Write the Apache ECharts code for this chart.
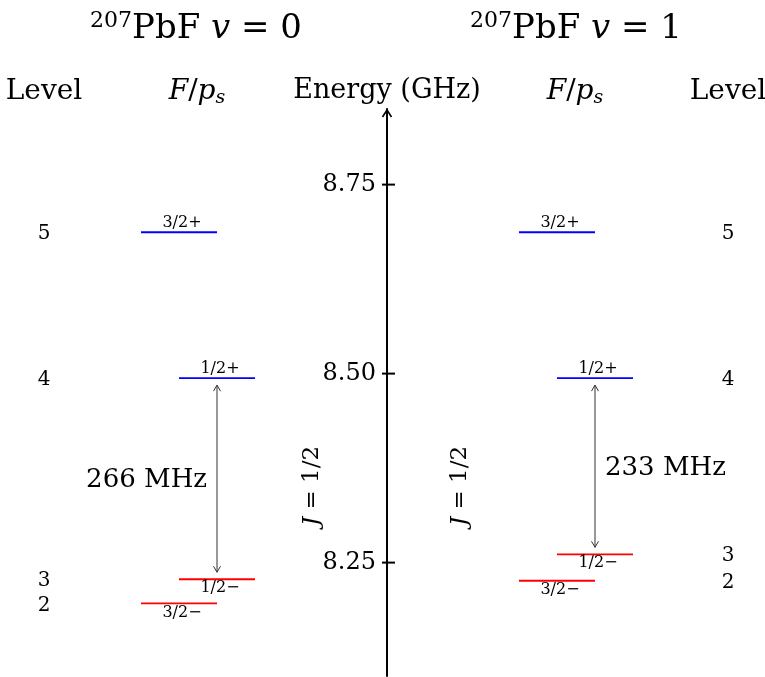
<!DOCTYPE html>
<html>
<head>
<meta charset="utf-8">
<style>
  html, body { margin: 0; padding: 0; background: #fff; }
  #chart { width: 765px; height: 677px; }
</style>
<script src="https://cdn.jsdelivr.net/npm/echarts@6/dist/echarts.min.js"></script>
</head>
<body>
<div id="chart"></div>
<script>
// hyperfine levels of 207PbF, J = 1/2, energies (GHz)
var levelNames = ['2', '3', '4', '5']
var fLabels = ['3/2−', '1/2−', '1/2+', '3/2+']
var parity = ['-', '-', '+', '+']
var energyV0 = [8.196, 8.228, 8.494, 8.687]
var energyV1 = [8.226, 8.261, 8.494, 8.687]
var yTicks = [8.25, 8.5, 8.75]
var yMin = 8.1
var yMax = 8.85

var FONT = 'DejaVu Serif'
var AXIS_X = 387 // pixel column of the energy axis
// horizontal layout, in px relative to the energy axis
var cols = [
  { energies: energyV0, center: -189, levelX: -343, gapSide: -1 },
  { energies: energyV1, center: 189, levelX: 341, gapSide: 1 }
]

var chart = echarts.init(document.getElementById('chart'))

function levelSeries (col) {
  return {
    type: 'custom',
    silent: true,
    data: col.energies.map(function (e, i) { return [i, e] }),
    encode: { x: 0, y: 1 },
    renderItem: function (params, api) {
      var i = params.dataIndex
      var half = fLabels[i].indexOf('1/2') === 0
      var c = col.center + (half ? 19 : -19)
      var a = api.coord([c - 38, api.value(1)])
      var b = api.coord([c + 38, api.value(1)])
      var up = parity[i] === '+'
      var color = up ? '#0000ff' : '#ff0000'
      return {
        type: 'group',
        children: [
          { type: 'line', shape: { x1: a[0], y1: a[1], x2: b[0], y2: b[1] }, style: { stroke: color, lineWidth: 1.8 } },
          { type: 'text', x: (a[0] + b[0]) / 2 + 3, y: a[1] + (up ? -9 : 9),
            style: { text: fLabels[i], fill: '#000', fontFamily: FONT, fontSize: 16, align: 'center', verticalAlign: 'middle' } },
          { type: 'text', x: api.coord([col.levelX, 0])[0], y: a[1] + 2,
            style: { text: levelNames[i], fill: '#000', fontFamily: FONT, fontSize: 20, align: 'center', verticalAlign: 'middle' } }
        ]
      }
    }
  }
}

function head (x, y, dir, w, h, width, color) {
  return { type: 'polyline', shape: { points: [[x - w, y + dir * h], [x, y], [x + w, y + dir * h]] },
    style: { stroke: color, lineWidth: width, fill: null } }
}

// splitting arrow between level 3 and level 4 on each side
var splitSeries = {
  type: 'custom',
  silent: true,
  data: cols.map(function (col, k) { return [k, col.energies[1], col.energies[2]] }),
  encode: { x: 0, y: 1 },
  renderItem: function (params, api) {
    var col = cols[params.dataIndex]
    var lo = api.value(1)
    var hi = api.value(2)
    var top = api.coord([col.center + 19, hi])
    var bot = api.coord([col.center + 19, lo])
    var x = top[0]
    var y1 = top[1] + 7
    var y2 = bot[1] - 7
    var mhz = Math.round((hi - lo) * 1000) + ' MHz'
    return {
      type: 'group',
      children: [
        { type: 'line', shape: { x1: x, y1: y1, x2: x, y2: y2 }, style: { stroke: '#333', lineWidth: 1 } },
        head(x, y1, 1, 3.5, 6, 1, '#333'),
        head(x, y2, -1, 3.5, 6, 1, '#333'),
        { type: 'text', x: x + col.gapSide * 10, y: (y1 + y2) / 2 + 2,
          style: { text: mhz, fill: '#000', fontFamily: FONT, fontSize: 26,
            align: col.gapSide < 0 ? 'right' : 'left', verticalAlign: 'middle' } }
      ]
    }
  }
}

// crossing ticks with their labels, plus the open arrow head at the axis top
var tickSeries = {
  type: 'custom',
  silent: true,
  data: yTicks.map(function (t) { return [0, t] }),
  encode: { x: 0, y: 1 },
  renderItem: function (params, api) {
    var p = api.coord([0, api.value(1)])
    var children = [
      { type: 'line', shape: { x1: p[0] - 5, y1: p[1], x2: p[0] + 8, y2: p[1] }, style: { stroke: '#000', lineWidth: 2 } },
      { type: 'text', x: p[0] - 11, y: p[1],
        style: { text: api.value(1).toFixed(2), fill: '#000', fontFamily: FONT, fontSize: 24, align: 'right', verticalAlign: 'middle' } }
    ]
    if (params.dataIndex === 0) {
      var t = api.coord([0, yMax])
      children.push(head(t[0], t[1] + 1, 1, 4.5, 7, 1.6, '#000'))
    }
    return { type: 'group', children: children }
  }
}

function titleText (x, n) {
  return { type: 'text', x: x, y: 29,
    style: { text: '{sup|207}PbF {i|v} = ' + n, fill: '#000', fontFamily: FONT, fontSize: 34,
      align: 'center', verticalAlign: 'middle', lineHeight: 38,
      rich: {
        sup: { fontFamily: FONT, fontSize: 22, lineHeight: 22, verticalAlign: 'top', fill: '#000' },
        i: { fontFamily: FONT, fontSize: 34, fontStyle: 'italic', fill: '#000' }
      } } }
}

function headerText (x, txt) {
  return { type: 'text', x: x, y: 92,
    style: { text: txt, fill: '#000', fontFamily: FONT, fontSize: 28, align: 'center', verticalAlign: 'middle',
      lineHeight: 32,
      rich: {
        i: { fontFamily: FONT, fontSize: 28, fontStyle: 'italic', fill: '#000' },
        sub: { fontFamily: FONT, fontSize: 19, fontStyle: 'italic', lineHeight: 22, verticalAlign: 'bottom', fill: '#000' }
      } } }
}

function jText (x) {
  return { type: 'text', x: x, y: 486, rotation: Math.PI / 2,
    style: { text: '{i|J} = 1/2', fill: '#000', fontFamily: FONT, fontSize: 23, align: 'center', verticalAlign: 'middle',
      rich: { i: { fontFamily: FONT, fontSize: 23, fontStyle: 'italic', fill: '#000' } } } }
}

var option = {
  backgroundColor: '#fff',
  animation: false,
  grid: { left: 0, right: 0, top: 109, height: 567, outerBoundsMode: 'none' },
  xAxis: { type: 'value', min: -AXIS_X, max: 765 - AXIS_X, show: false },
  yAxis: {
    type: 'value',
    min: yMin,
    max: yMax,
    name: 'Energy (GHz)',
    nameLocation: 'end',
    nameGap: 5,
    nameTextStyle: { fontFamily: FONT, fontSize: 27, color: '#000', align: 'center', verticalAlign: 'bottom' },
    axisLine: { show: true, onZero: true, lineStyle: { color: '#000', width: 2 } },
    axisTick: { show: false },
    axisLabel: { show: false },
    splitLine: { show: false }
  },
  graphic: [
    titleText(AXIS_X - 191, 0),
    titleText(AXIS_X + 189, 1),
    headerText(AXIS_X - 343, 'Level'),
    headerText(AXIS_X - 190, '{i|F}/{i|p}{sub|s}'),
    headerText(AXIS_X + 188, '{i|F}/{i|p}{sub|s}'),
    headerText(AXIS_X + 341, 'Level'),
    jText(AXIS_X - 75),
    jText(AXIS_X + 73)
  ],
  series: [levelSeries(cols[0]), levelSeries(cols[1]), splitSeries, tickSeries]
}

chart.setOption(option)
</script>
</body>
</html>
